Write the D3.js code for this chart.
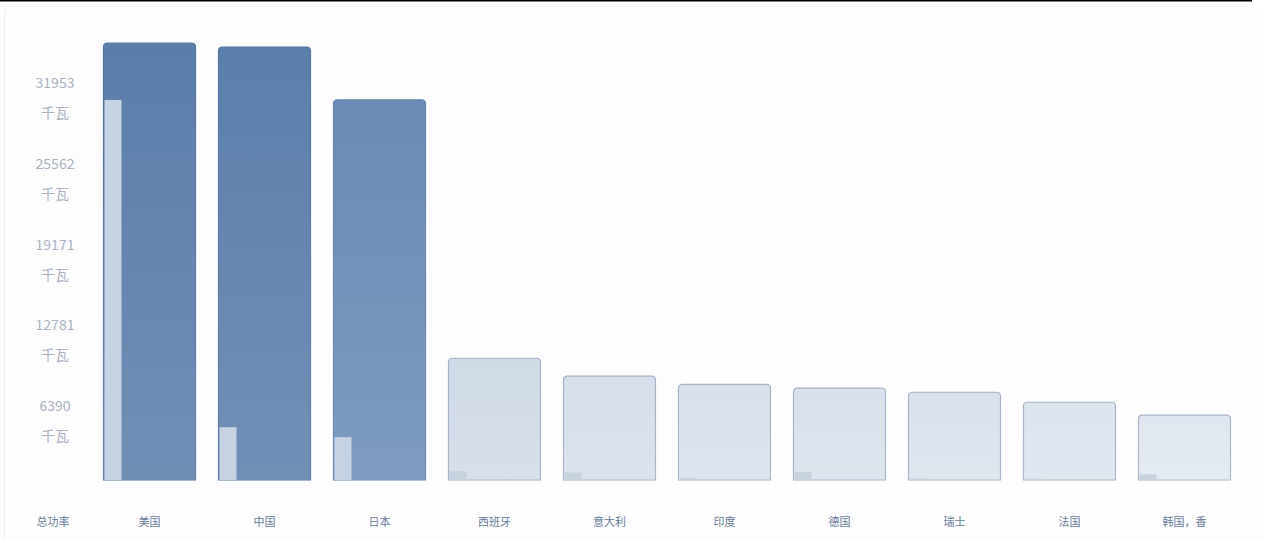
<!DOCTYPE html>
<html>
<head>
<meta charset="utf-8">
<script src="https://cdn.jsdelivr.net/npm/d3@7"></script>
<style>
  body { margin: 0; background: #fff; }
  svg { display: block; font-family: "Noto Sans CJK SC", "Noto Sans", sans-serif; }
</style>
</head>
<body>
<svg class="chart"></svg>
<script>
// chart data
var countries = ["美国", "中国", "日本", "西班牙", "意大利", "印度", "德国", "瑞士", "法国", "韩国，香"];
var totalPower = [34550, 34240, 30060, 9630, 8210, 7570, 7260, 6940, 6150, 5130];
var secondPower = [30060, 4180, 3390, 700, 600, 150, 650, 120, 120, 450];
var tickValues = [6390, 12781, 19171, 25562, 31953];
var tickUnit = "千瓦";
var axisTitle = "总功率";

width = 1264;
height = 546;

var svg = d3.select(".chart")
    .attr("width", width)
    .attr("height", height);

// panel
svg.append("rect")
    .attr("x", 4).attr("y", 9)
    .attr("width", width - 4).attr("height", 530)
    .attr("fill", "#fdfdfe");
svg.append("line")
    .attr("x1", 4.5).attr("x2", 4.5)
    .attr("y1", 9).attr("y2", 539)
    .attr("stroke", "#eeeff6");
svg.append("line")
    .attr("x1", 0).attr("x2", 1252)
    .attr("y1", 0.5).attr("y2", 0.5)
    .attr("stroke", "#000").attr("stroke-width", 2);

var x = d3.scaleBand()
    .domain(countries)
    .range([92, 1242])
    .paddingInner(0.2)
    .paddingOuter(0.1);

var y = d3.scaleLinear()
    .domain([0, 31953])
    .range([480, 76]);

// colour by size of the bar
var color = d3.scaleLinear()
    .domain([5000, 10000, 30000, 35000])
    .range(["#e0e7f0", "#cfd9e6", "#6a8bb5", "#587ca9"]);
var stroke = d3.scaleLinear()
    .domain([5000, 10000, 30000, 35000])
    .range(["#a9b5c7", "#a3b1c4", "#6283ad", "#5475a1"]);

var defs = svg.append("defs");
var grad = defs.append("linearGradient")
    .attr("id", "shade")
    .attr("x1", 0).attr("x2", 0).attr("y1", 0).attr("y2", 1);
grad.append("stop").attr("offset", "0%").attr("stop-color", "#fff").attr("stop-opacity", 0);
grad.append("stop").attr("offset", "100%").attr("stop-color", "#fff").attr("stop-opacity", 0.14);

function barPath(x0, y0, w, h, r) {
    return "M" + x0 + "," + (y0 + h) +
        "V" + (y0 + r) +
        "Q" + x0 + "," + y0 + " " + (x0 + r) + "," + y0 +
        "H" + (x0 + w - r) +
        "Q" + (x0 + w) + "," + y0 + " " + (x0 + w) + "," + (y0 + r) +
        "V" + (y0 + h) + "Z";
}

var bars = svg.selectAll(".bar")
    .data(countries)
    .enter().append("g")
    .attr("class", "bar");

bars.append("path")
    .attr("d", function (d, i) {
        var top = y(totalPower[i]);
        return barPath(x(d), top, x.bandwidth(), y(0) - top, 4);
    })
    .attr("fill", function (d, i) { return color(totalPower[i]); })
    .attr("stroke", function (d, i) { return stroke(totalPower[i]); })
    .attr("stroke-width", 1.2);

bars.append("path")
    .attr("d", function (d, i) {
        var top = y(totalPower[i]);
        return barPath(x(d), top, x.bandwidth(), y(0) - top, 4);
    })
    .attr("fill", "url(#shade)");

// narrow second series inside each bar
bars.append("rect")
    .attr("x", function (d) { return x(d) + 1; })
    .attr("width", 17)
    .attr("y", function (d, i) { return y(secondPower[i]); })
    .attr("height", function (d, i) { return y(0) - y(secondPower[i]); })
    .attr("fill", function (d, i) { return totalPower[i] > 20000 ? "#c6d3e3" : "#c8d2df"; });

// y axis labels
var yLabels = svg.selectAll(".ytick")
    .data(tickValues)
    .enter().append("g")
    .attr("class", "ytick")
    .attr("transform", function (d) { return "translate(55," + (y(d) + 12) + ")"; });

yLabels.append("text")
    .attr("text-anchor", "middle")
    .attr("fill", "#aab2c3")
    .style("font-size", "14px")
    .text(function (d) { return d; });

yLabels.append("text")
    .attr("text-anchor", "middle")
    .attr("y", 30)
    .attr("fill", "#aab2c3")
    .style("font-size", "14px")
    .text(tickUnit);

// category labels
svg.selectAll(".xlabel")
    .data(countries)
    .enter().append("text")
    .attr("class", "xlabel")
    .attr("x", function (d) { return x(d) + x.bandwidth() / 2; })
    .attr("y", 526)
    .attr("text-anchor", "middle")
    .attr("fill", "#667a99")
    .style("font-size", "11px")
    .text(function (d) { return d; });

svg.append("text")
    .attr("x", 53)
    .attr("y", 526)
    .attr("text-anchor", "middle")
    .attr("fill", "#667a99")
    .style("font-size", "11px")
    .text(axisTitle);
</script>
</body>
</html>
